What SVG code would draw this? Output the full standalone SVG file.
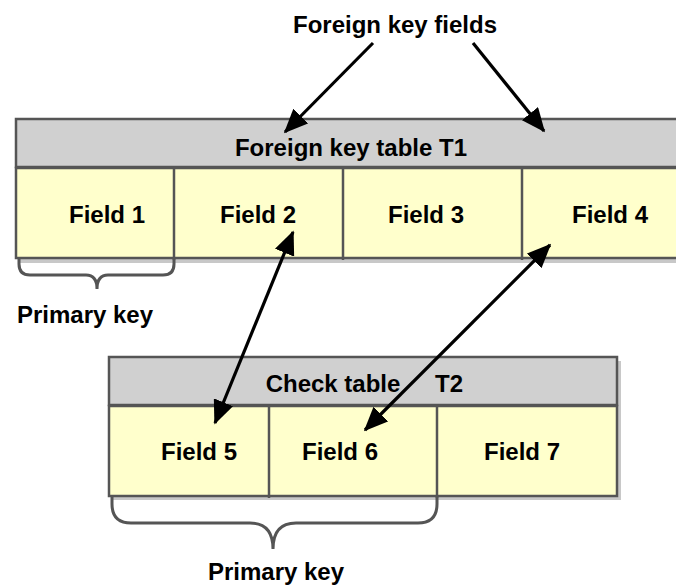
<svg xmlns="http://www.w3.org/2000/svg" width="676" height="585" viewBox="0 0 676 585">
<style>
text{font-family:"Liberation Sans",Arial,sans-serif;font-weight:bold;font-size:24px;fill:#000;text-anchor:middle}
.hdr{fill:#d0d0d0;stroke:#555;stroke-width:2.5}
.row{fill:#ffffcc;stroke:#555;stroke-width:2.5}
.div{stroke:#555;stroke-width:2.5}
.shadow{fill:#c8c8c8}
.brace{fill:none;stroke:#555;stroke-width:3}
.conn{stroke:#000;stroke-width:3.2;fill:none}
</style>
<defs>
<marker id="ah" viewBox="0 0 7.5 6.5" refX="7" refY="3.25" markerWidth="7.5" markerHeight="6.5" markerUnits="strokeWidth" orient="auto-start-reverse">
<path d="M0,0 L7.5,3.25 L0,6.5 z" fill="#000"/>
</marker>
</defs>
<rect width="676" height="585" fill="#fff"/>
<g id="t1">
<rect class="shadow" x="19" y="258" width="690" height="5"/>
<rect class="hdr" x="16" y="119" width="690" height="48"/>
<rect class="row" x="16" y="168" width="690" height="90"/>
<line class="div" x1="174" y1="168" x2="174" y2="260"/>
<line class="div" x1="343" y1="168" x2="343" y2="260"/>
<line class="div" x1="522" y1="168" x2="522" y2="260"/>
<text x="351" y="156">Foreign key table T1</text>
<text x="107" y="223">Field 1</text>
<text x="258" y="223">Field 2</text>
<text x="426" y="223">Field 3</text>
<text x="610" y="223">Field 4</text>
</g>
<g id="t2">
<rect class="shadow" x="113" y="361" width="508" height="139"/>
<rect class="hdr" x="109" y="357" width="508" height="48"/>
<rect class="row" x="109" y="406" width="508" height="90"/>
<line class="div" x1="269" y1="406" x2="269" y2="498"/>
<line class="div" x1="437" y1="406" x2="437" y2="498"/>
<text x="333" y="392">Check table<tspan x="449">T2</tspan></text>
<text x="199" y="460">Field 5</text>
<text x="340" y="460">Field 6</text>
<text x="522" y="460">Field 7</text>
</g>
<g id="pk1">
<path class="brace" d="M19,259 V264 Q19,275 30,275 H86 Q97,275 97,289 Q97,275 108,275 H163 Q174,275 174,264 V259"/>
<text x="85" y="323">Primary key</text>
</g>
<g id="pk2">
<path class="brace" d="M112,497 V504 Q112,523 131,523 H250 Q273,523 273,549 Q273,523 296,523 H418 Q437,523 437,504 V497"/>
<text x="276" y="580">Primary key</text>
</g>
<g id="fkf">
<text x="395" y="33">Foreign key fields</text>
</g>
<g id="connectors">
<line class="conn" x1="373" y1="43" x2="285" y2="132" marker-end="url(#ah)"/>
<line class="conn" x1="473" y1="43" x2="544" y2="131" marker-end="url(#ah)"/>
<line class="conn" x1="293" y1="232" x2="215" y2="423" marker-start="url(#ah)" marker-end="url(#ah)"/>
<line class="conn" x1="550" y1="245" x2="365" y2="430" marker-start="url(#ah)" marker-end="url(#ah)"/>
</g>
</svg>
